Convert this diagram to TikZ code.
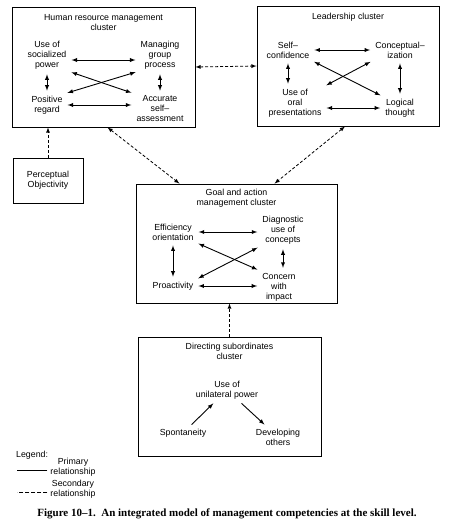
\documentclass[tikz,border=0pt]{standalone}
\usepackage{fontspec}
\setmainfont{Liberation Sans}
\newfontfamily\capfont{Liberation Serif}
\usepackage{tikz}
\usetikzlibrary{arrows,positioning}

\begin{document}
\begin{tikzpicture}[
    x=1pt, y=-1pt,
    cluster/.style={draw, line width=0.8pt, inner sep=0pt},
    item/.style={align=center, inner sep=2pt, font=\fontsize{8.8}{10}\selectfont},
    ctitle/.style={align=center, inner sep=0pt, font=\fontsize{8.8}{10}\selectfont},
    prim/.style={<->, >=latex, line width=0.9pt, shorten <=3pt, shorten >=3pt},
    sec/.style={>=latex, line width=0.8pt, dash pattern=on 3pt off 2pt}
]
\useasboundingbox (0,0) rectangle (474,528);

% cluster boxes
\node[cluster, minimum width=183pt, minimum height=120pt] (hrm) at (103.5,67) {};
\node[cluster, minimum width=182pt, minimum height=120pt] (lead) at (348,66) {};
\node[cluster, minimum width=70pt, minimum height=45pt, item] (perc) at (48,180.5) {Perceptual\\Objectivity};
\node[cluster, minimum width=201pt, minimum height=119pt] (goal) at (236.5,243.5) {};
\node[cluster, minimum width=183pt, minimum height=119pt] (dir) at (229.5,396.5) {};

% titles
\node[ctitle, below=8pt of hrm.north] (hrmt) {Human resource management\\cluster};
\node[ctitle, below=7pt of lead.north] (leadt) {Leadership cluster};
\node[ctitle, below=5pt of goal.north] (goalt) {Goal and action\\management cluster};
\node[ctitle, below=6pt of dir.north] (dirt) {Directing subordinates\\cluster};

% human resource management cluster
\node[item] (usp) at (47,55) {Use of\\socialized\\power};
\node[item] (mgp) at (160,55) {Managing\\group\\process};
\node[item] (pr) at (47,105) {Positive\\regard};
\node[item] (asa) at (160,109) {Accurate\\self–\\assessment};
\draw[prim] ([yshift=-5pt]usp.east) -- ([yshift=-5pt]mgp.west);
\draw[prim] (pr.east) -- (pr.east -| asa.west);
\draw[prim] (usp) -- (pr);
\draw[prim] (mgp) -- (asa);
\draw[prim] (usp.south east) -- (asa.north west);
\draw[prim] (pr.north east) -- (mgp.south west);

% leadership cluster
\node[item] (sc) at (288,50) {Self–\\confidence};
\node[item] (con) at (400,50) {Conceptual–\\ization};
\node[item] (uop) at (295,103) {Use of\\oral\\presentations};
\node[item] (lt) at (400,108) {Logical\\thought};
\draw[prim] (sc) -- (con);
\draw[prim] (uop.east |- lt.west) -- (lt.west);
\draw[prim] (sc) -- (sc |- uop.north);
\draw[prim] (con) -- (lt);
\draw[prim] (sc.south east) -- (lt.north west);
\draw[prim] (uop.north east) -- (con.south west);

% goal and action management cluster
\node[item] (eo) at (173,232) {Efficiency\\orientation};
\node[item] (duc) at (283,230) {Diagnostic\\use of\\concepts};
\node[item] (pro) at (173,286) {Proactivity};
\node[item] (cwi) at (279,287) {Concern\\with\\impact};
\draw[prim] (eo.east) -- (eo.east -| duc.west);
\draw[prim] (pro.east) -- (pro.east -| cwi.west);
\draw[prim] (eo) -- (pro);
\draw[prim] (duc) -- (duc |- cwi.north);
\draw[prim] (eo.south east) -- (cwi.north west);
\draw[prim] (pro.north east) -- (duc.south west);

% directing subordinates cluster
\node[item] (uup) at (227,390) {Use of\\unilateral power};
\node[item] (spo) at (183,433) {Spontaneity};
\node[item] (dev) at (278,437) {Developing\\others};
\draw[prim, <-] (uup) -- (spo);
\draw[prim, ->] (uup) -- (dev);

% secondary relationships
\draw[sec, <->] (hrm.east) -- (lead.west);
\draw[sec, <->] ([xshift=4pt]hrm.south) -- ([xshift=-57pt]goal.north);
\draw[sec, <->] ([xshift=-3pt]lead.south) -- ([xshift=38pt]goal.north);
\draw[sec, ->] (perc.north) -- (perc.north |- hrm.south);
\draw[sec, ->] (dir.north) -- (dir.north |- goal.south);

% legend
\node[item, anchor=west, inner sep=0pt] (leg) at (16,455) {Legend:};
\node[item, inner sep=0pt] (lprim) at (73,467) {Primary\\relationship};
\node[item, inner sep=0pt] (lsec) at (73,489) {Secondary\\relationship};
\draw[line width=0.9pt] (lprim.west |- 0,470) ++(-3pt,0) coordinate (pe) -- ++(-30pt,0);
\draw[line width=0.9pt, dash pattern=on 4pt off 2pt] (lsec.west |- 0,492) ++(-3pt,0) coordinate (se) -- ++(-30pt,0);

% caption
\node[font=\capfont\bfseries\fontsize{11}{13}\selectfont, inner sep=0pt] (cap) at (227,514)
  {Figure 10–1.\ \ An integrated model of management competencies at the skill level.};
\end{tikzpicture}
\end{document}
